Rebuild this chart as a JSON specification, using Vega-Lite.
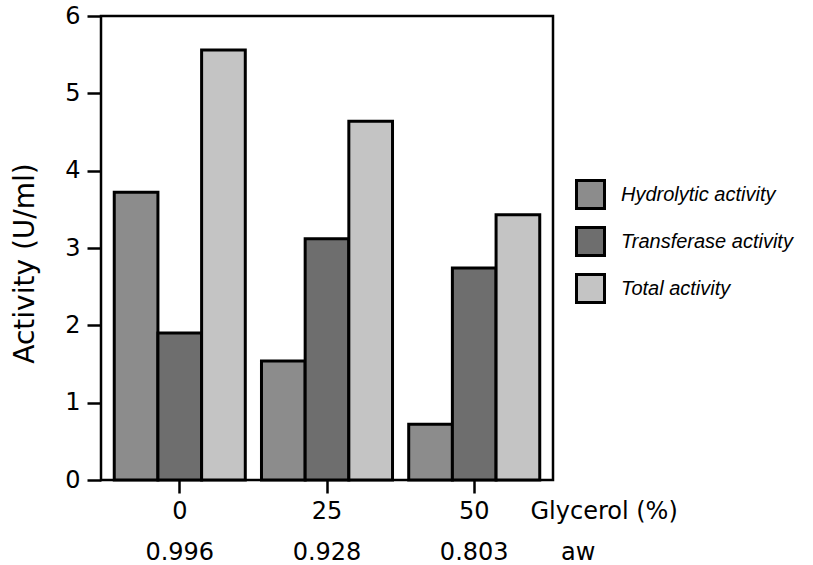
{
  "$schema": "https://vega.github.io/schema/vega-lite/v6.json",
  "width": 452,
  "height": 464,
  "autosize": {"type": "none"},
  "padding": {"left": 101, "top": 16, "right": 260, "bottom": 85},
  "background": "white",
  "config": {
    "view": {"stroke": "black", "strokeWidth": 2.5},
    "axis": {
      "labelFont": "DejaVu Sans",
      "labelFontSize": 24,
      "labelColor": "black",
      "tickColor": "black",
      "tickWidth": 2.5,
      "domain": false,
      "grid": false,
      "titleFont": "DejaVu Sans",
      "titleFontWeight": "normal",
      "titleColor": "black"
    }
  },
  "data": {
    "values": [
      {"group": "0|0.996", "series": "Hydrolytic activity", "activity": 3.72},
      {"group": "0|0.996", "series": "Transferase activity", "activity": 1.9},
      {"group": "0|0.996", "series": "Total activity", "activity": 5.56},
      {"group": "25|0.928", "series": "Hydrolytic activity", "activity": 1.54},
      {"group": "25|0.928", "series": "Transferase activity", "activity": 3.12},
      {"group": "25|0.928", "series": "Total activity", "activity": 4.64},
      {"group": "50|0.803", "series": "Hydrolytic activity", "activity": 0.72},
      {"group": "50|0.803", "series": "Transferase activity", "activity": 2.74},
      {"group": "50|0.803", "series": "Total activity", "activity": 3.43}
    ]
  },
  "mark": {"type": "bar", "stroke": "black", "strokeWidth": 3, "strokeJoin": "miter"},
  "encoding": {
    "x": {
      "field": "group",
      "type": "nominal",
      "sort": null,
      "scale": {"paddingInner": 0.11, "paddingOuter": 0.09},
      "axis": {
        "labelExpr": "split(datum.value, '|')",
        "labelAngle": 0,
        "labelLineHeight": 41,
        "labelPadding": 6,
        "labelBaseline": "top",
        "tickSize": 13,
        "title": ["Glycerol (%)", "\u200b\u00a0\u00a0\u00a0\u00a0aw"],
        "titleFontSize": 24,
        "titleX": 429,
        "titleY": 19,
        "titleAlign": "left",
        "titleBaseline": "top",
        "titleAngle": 0,
        "titleLineHeight": 41
      }
    },
    "xOffset": {
      "field": "series",
      "type": "nominal",
      "sort": ["Hydrolytic activity", "Transferase activity", "Total activity"],
      "scale": {"paddingInner": 0, "paddingOuter": 0}
    },
    "y": {
      "field": "activity",
      "type": "quantitative",
      "scale": {"domain": [0, 6], "nice": false},
      "axis": {
        "values": [0, 1, 2, 3, 4, 5, 6],
        "tickSize": 14,
        "labelPadding": 7,
        "title": "Activity (U/ml)",
        "titleFontSize": 28,
        "titleAngle": 270,
        "titleX": -68,
        "titleY": 247,
        "titleAlign": "center",
        "titleBaseline": "alphabetic"
      }
    },
    "fill": {
      "field": "series",
      "type": "nominal",
      "sort": ["Hydrolytic activity", "Transferase activity", "Total activity"],
      "scale": {
        "domain": ["Hydrolytic activity", "Transferase activity", "Total activity"],
        "range": ["#8c8c8c", "#6e6e6e", "#c4c4c4"]
      },
      "legend": {
        "orient": "none",
        "legendX": 474,
        "legendY": 163,
        "title": null,
        "padding": 0,
        "symbolType": "square",
        "symbolSize": 784,
        "symbolStrokeColor": "black",
        "symbolStrokeWidth": 3,
        "symbolOpacity": 1,
        "labelFont": "Liberation Sans",
        "labelFontStyle": "italic",
        "labelFontSize": 20,
        "labelColor": "black",
        "labelOffset": 15,
        "labelLimit": 300,
        "rowPadding": 6
      }
    }
  }
}
